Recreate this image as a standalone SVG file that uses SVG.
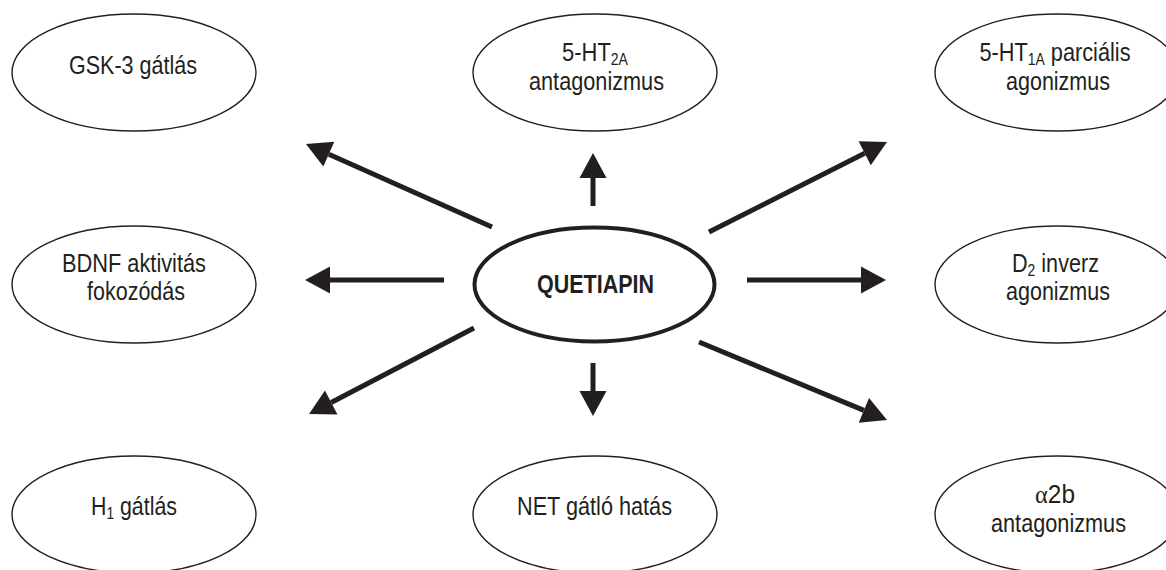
<svg xmlns="http://www.w3.org/2000/svg" width="1166" height="570" viewBox="0 0 1166 570">
  <style>
    .node { fill: #ffffff; stroke: #231f20; stroke-width: 1.4; }
    .hub { fill: #ffffff; stroke: #231f20; stroke-width: 4; }
    .label { font-family: "Liberation Sans", Arial, sans-serif; font-size: 25px; fill: #231f20; text-anchor: middle; }
    .hub-label { font-family: "Liberation Sans", Arial, sans-serif; font-size: 25px; font-weight: bold; fill: #231f20; text-anchor: middle; }
    .sub { font-size: 16px; }
    .greek { font-family: "Liberation Serif", "Times New Roman", serif; }
    .arrow { stroke: #231f20; stroke-width: 5; fill: none; marker-end: url(#head); }
  </style>
  <defs>
    <marker id="head" markerUnits="userSpaceOnUse" markerWidth="25" markerHeight="27" refX="0" refY="13.5" orient="auto" overflow="visible">
      <path d="M0,0 L25,13.5 L0,27 Z" fill="#231f20"/>
    </marker>
  </defs>

  <rect width="1166" height="570" fill="#ffffff"/>

  <!-- connectors from the central node -->
  <g id="connectors">
    <line class="arrow" x1="492" y1="227" x2="328.8" y2="154.2"/>
    <line class="arrow" x1="593" y1="206" x2="593" y2="178"/>
    <line class="arrow" x1="709" y1="232" x2="864.7" y2="153.3"/>
    <line class="arrow" x1="444" y1="280" x2="330" y2="280"/>
    <line class="arrow" x1="747" y1="280" x2="861" y2="280"/>
    <line class="arrow" x1="474" y1="328" x2="331.2" y2="402.5"/>
    <line class="arrow" x1="593" y1="363" x2="593" y2="391"/>
    <line class="arrow" x1="699" y1="342" x2="863.9" y2="410.4"/>
  </g>

  <g id="quetiapin">
    <ellipse class="hub" cx="594.5" cy="284.5" rx="120" ry="57"/>
    <text class="hub-label" x="595.5" y="293" textLength="117" lengthAdjust="spacingAndGlyphs">QUETIAPIN</text>
  </g>

  <g id="gsk3">
    <ellipse class="node" cx="134" cy="72.5" rx="122" ry="58.5"/>
    <text class="label" x="133" y="74" textLength="128" lengthAdjust="spacingAndGlyphs">GSK-3 gátlás</text>
  </g>

  <g id="ht2a">
    <ellipse class="node" cx="595" cy="72.5" rx="122" ry="58.5"/>
    <text class="label" x="595" y="61" textLength="66" lengthAdjust="spacingAndGlyphs">5-HT<tspan class="sub" dy="4">2A</tspan></text>
    <text class="label" x="596.5" y="90" textLength="135" lengthAdjust="spacingAndGlyphs">antagonizmus</text>
  </g>

  <g id="ht1a">
    <ellipse class="node" cx="1057" cy="72.5" rx="122" ry="58.5"/>
    <text class="label" x="1055" y="61" textLength="151" lengthAdjust="spacingAndGlyphs">5-HT<tspan class="sub" dy="4">1A</tspan><tspan dy="-4"> parciális</tspan></text>
    <text class="label" x="1058" y="90" textLength="104" lengthAdjust="spacingAndGlyphs">agonizmus</text>
  </g>

  <g id="bdnf">
    <ellipse class="node" cx="134" cy="284.5" rx="122" ry="58.5"/>
    <text class="label" x="134" y="272" textLength="144" lengthAdjust="spacingAndGlyphs">BDNF aktivitás</text>
    <text class="label" x="136" y="300" textLength="98" lengthAdjust="spacingAndGlyphs">fokozódás</text>
  </g>

  <g id="d2">
    <ellipse class="node" cx="1057" cy="284.5" rx="122" ry="58.5"/>
    <text class="label" x="1055.5" y="272" textLength="87" lengthAdjust="spacingAndGlyphs">D<tspan class="sub" dy="4">2</tspan><tspan dy="-4"> inverz</tspan></text>
    <text class="label" x="1058" y="300" textLength="104" lengthAdjust="spacingAndGlyphs">agonizmus</text>
  </g>

  <g id="h1">
    <ellipse class="node" cx="134" cy="514.5" rx="122" ry="58.5"/>
    <text class="label" x="134" y="515" textLength="86" lengthAdjust="spacingAndGlyphs">H<tspan class="sub" dy="4">1</tspan><tspan dy="-4"> gátlás</tspan></text>
  </g>

  <g id="net">
    <ellipse class="node" cx="595" cy="514.5" rx="122" ry="58.5"/>
    <text class="label" x="594.5" y="515" textLength="155" lengthAdjust="spacingAndGlyphs">NET gátló hatás</text>
  </g>

  <g id="alpha2b">
    <ellipse class="node" cx="1057" cy="514.5" rx="122" ry="58.5"/>
    <text class="label" x="1055" y="503" textLength="40" lengthAdjust="spacingAndGlyphs"><tspan class="greek">α</tspan>2b</text>
    <text class="label" x="1058.5" y="532" textLength="135" lengthAdjust="spacingAndGlyphs">antagonizmus</text>
  </g>
</svg>
